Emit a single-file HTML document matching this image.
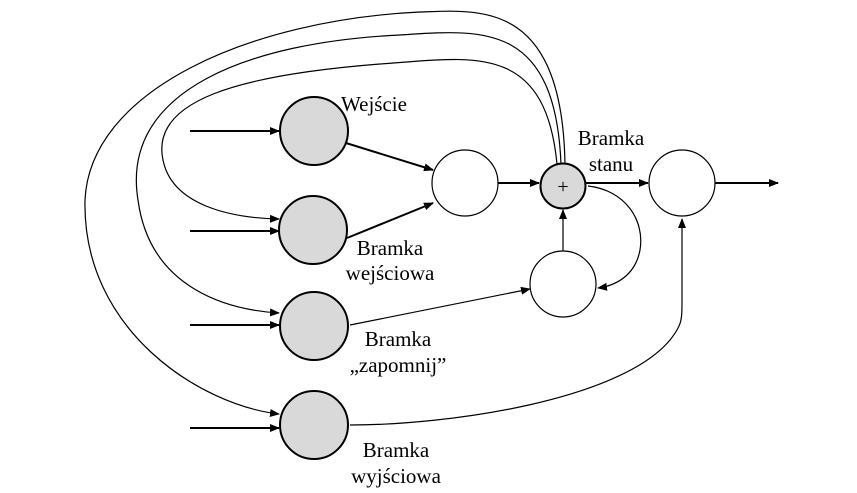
<!DOCTYPE html>
<html><head><style>body{margin:0;background:#fff}svg{display:block}text{font-family:"Liberation Serif",serif;font-size:21px;fill:#000}</style></head>
<body>
<svg width="857" height="493" viewBox="0 0 857 493">
<defs>
<marker id="a" markerWidth="10" markerHeight="8" refX="9" refY="4" orient="auto" markerUnits="userSpaceOnUse"><path d="M0,0 L10,4 L0,8 z" fill="#000"/></marker>
</defs>
<g fill="none" stroke="#000" stroke-width="1.2">
<path d="M557,164 C545,40 470,58 380,64 C240,75 150,100 163,160 C172,205 230,218 279,219" marker-end="url(#a)"/>
<path d="M561,164 C555,20 480,30 400,35 C250,42 120,90 138,200 C150,290 230,310 279,313" marker-end="url(#a)"/>
<path d="M565,164 C562,0 480,10 420,12 C250,20 90,90 85,200 C82,330 200,405 279,414" marker-end="url(#a)"/>
<path d="M588,186 C625,190 645,220 640,250 C636,272 620,285 598,288" marker-end="url(#a)"/>
<path d="M350,325 L530,289" marker-end="url(#a)"/>
<path d="M350,425 C450,425 620,400 670,340 C682,325 682,320 682,300 L682,219" marker-end="url(#a)"/>
<path d="M563,251 L563,210" marker-end="url(#a)"/>
</g>
<g fill="none" stroke="#000" stroke-width="2">
<path d="M190,131 L279,131" marker-end="url(#a)"/>
<path d="M190,231 L279,231" marker-end="url(#a)"/>
<path d="M190,325 L279,325" marker-end="url(#a)"/>
<path d="M190,428 L279,428" marker-end="url(#a)"/>
<path d="M346,143 L433,170" marker-end="url(#a)"/>
<path d="M347,238 L433,203" marker-end="url(#a)"/>
<path d="M498,183 L539,183" marker-end="url(#a)"/>
<path d="M586,183 L648,183" marker-end="url(#a)"/>
<path d="M715,183 L778,183" marker-end="url(#a)"/>
</g>
<g stroke="#000" stroke-width="2" fill="#d9d9d9">
<circle cx="314" cy="131" r="34"/>
<circle cx="313" cy="230" r="34"/>
<circle cx="314" cy="326" r="34"/>
<circle cx="314" cy="425" r="34"/>
<circle cx="563" cy="186" r="22.5"/>
</g>
<g stroke="#000" stroke-width="1.2" fill="#fff">
<circle cx="465" cy="183" r="33"/>
<circle cx="682" cy="183" r="33"/>
<circle cx="563" cy="284" r="33"/>
</g>
<text x="563" y="193" text-anchor="middle" style="font-size:20px">+</text>
<text x="341" y="111">Wejście</text>
<g text-anchor="middle">
<text x="390" y="255">Bramka</text><text x="390" y="280">wejściowa</text>
<text x="611" y="145">Bramka</text><text x="611" y="171">stanu</text>
<text x="398" y="346">Bramka</text><text x="398" y="372">„zapomnij”</text>
<text x="396" y="457">Bramka</text><text x="396" y="483">wyjściowa</text>
</g>
</svg>
</body></html>
